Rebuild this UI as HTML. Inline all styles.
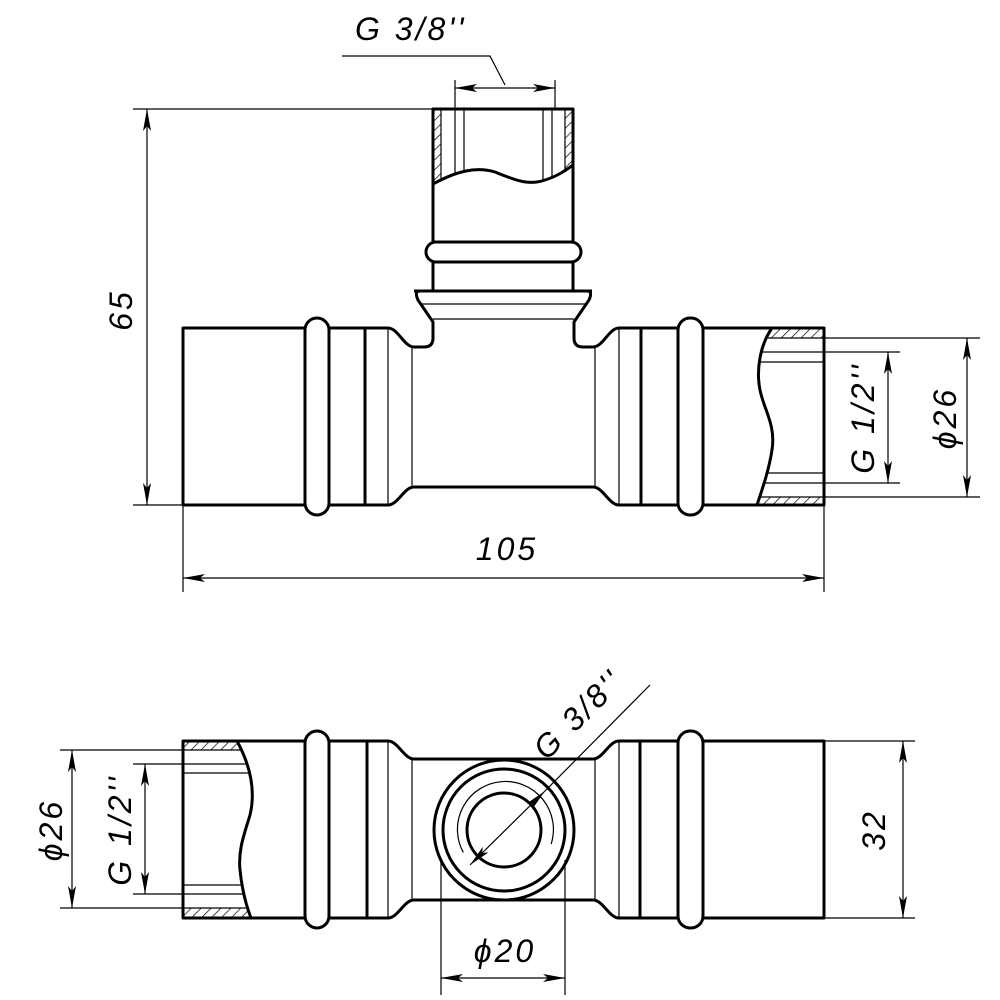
<!DOCTYPE html>
<html><head><meta charset="utf-8"><style>html,body{margin:0;padding:0;background:#fff}svg{display:block}</style></head>
<body>
<svg width="1000" height="1000" viewBox="0 0 1000 1000" xmlns="http://www.w3.org/2000/svg">
<defs>
<pattern id="h" width="7" height="7" patternUnits="userSpaceOnUse" patternTransform="rotate(45)"><line x1="0" y1="0" x2="0" y2="7" stroke="#000" stroke-width="1.4"/></pattern>
<marker id="a" markerWidth="22" markerHeight="8" refX="22" refY="4" orient="auto-start-reverse" markerUnits="userSpaceOnUse"><path d="M0,0 L22,4 L0,8 L5,4 Z" fill="#000"/></marker>
</defs>
<g fill="none" stroke="#000" stroke-linejoin="round">
<path d="M183,505 V328 H388 C398,328 404,347 414,347 H424 Q433,347 433,338 V322 L418,300 Q414,291 420,291 H587 Q593,291 589,300 L574,322 V338 Q574,347 583,347 H593 C603,347 609,328 619,328 H824 V505 H619 C609,505 603,487 593,487 H414 C404,487 398,505 388,505 Z" fill="#fff" stroke-width="3"/>
<line x1="420" y1="304" x2="587" y2="304" stroke-width="1.2"/>
<line x1="433" y1="319" x2="574" y2="319" stroke-width="1.2"/>
<g stroke-width="1.2"><line x1="388" y1="328" x2="388" y2="505"/><line x1="412" y1="347" x2="412" y2="487"/><line x1="595" y1="347" x2="595" y2="487"/><line x1="619" y1="328" x2="619" y2="505"/></g>
<g stroke-width="3"><line x1="365" y1="328" x2="365" y2="505"/><line x1="641" y1="328" x2="641" y2="505"/></g>
<rect x="305" y="318" width="24" height="197" rx="12" fill="#fff" stroke-width="3"/>
<rect x="678" y="318" width="25" height="197" rx="12" fill="#fff" stroke-width="3"/>
<path d="M772,328 H824 V338 H768 Z" fill="url(#h)" stroke="none"/>
<path d="M760,497 H824 V505 H757 Z" fill="url(#h)" stroke="none"/>
<path d="M772,328 C760,345 756,370 760,390 C764,410 776,425 772,450 C769,470 762,490 757,505" stroke-width="3"/>
<g stroke-width="1.2"><line x1="768" y1="338" x2="824" y2="338"/><line x1="760" y1="352" x2="824" y2="352"/><line x1="758" y1="362" x2="824" y2="362"/><line x1="768" y1="473" x2="824" y2="473"/><line x1="764" y1="483" x2="824" y2="483"/><line x1="760" y1="497" x2="824" y2="497"/></g>
<rect x="433" y="109" width="140" height="133" fill="#fff" stroke-width="3"/>
<path d="M433,109 H441 V180 L433,184 Z" fill="url(#h)" stroke="none"/>
<path d="M565,109 H573 V168 L565,172 Z" fill="url(#h)" stroke="none"/>
<g stroke-width="1.2"><line x1="441" y1="109" x2="441" y2="180"/><line x1="455" y1="109" x2="455" y2="174"/><line x1="464" y1="109" x2="464" y2="171"/><line x1="543" y1="109" x2="543" y2="181"/><line x1="552" y1="109" x2="552" y2="178"/><line x1="565" y1="109" x2="565" y2="172"/></g>
<path d="M433,184 C455,172 475,166 495,172 C515,180 528,186 545,180 C558,176 566,170 573,165" stroke-width="3"/>
<rect x="426" y="242" width="155" height="20" rx="10" fill="#fff" stroke-width="3"/>
<line x1="433" y1="262" x2="433" y2="291" stroke-width="3"/><line x1="573" y1="262" x2="573" y2="291" stroke-width="3"/>
<line x1="414" y1="291" x2="592" y2="291" stroke-width="3"/>
<g stroke-width="1.2">
<line x1="455" y1="80" x2="455" y2="109"/><line x1="555" y1="80" x2="555" y2="109"/>
<line x1="455" y1="88" x2="555" y2="88" marker-start="url(#a)" marker-end="url(#a)"/>
<polyline points="342,56 490,56 505,85"/>
<line x1="133" y1="109" x2="433" y2="109"/><line x1="133" y1="505" x2="183" y2="505"/>
<line x1="147" y1="109" x2="147" y2="505" marker-start="url(#a)" marker-end="url(#a)"/>
<line x1="183" y1="505" x2="183" y2="592"/><line x1="824" y1="505" x2="824" y2="592"/>
<line x1="183" y1="578" x2="824" y2="578" marker-start="url(#a)" marker-end="url(#a)"/>
<line x1="824" y1="338" x2="980" y2="338"/><line x1="824" y1="497" x2="980" y2="497"/>
<line x1="824" y1="352" x2="900" y2="352"/><line x1="824" y1="483" x2="900" y2="483"/>
<line x1="888" y1="352" x2="888" y2="483" marker-start="url(#a)" marker-end="url(#a)"/>
<line x1="967" y1="338" x2="967" y2="497" marker-start="url(#a)" marker-end="url(#a)"/>
</g>
<path d="M183,918 V741 H388 C398,741 404,759 414,759 H593 C603,759 609,741 619,741 H824 V918 H619 C609,918 603,900 593,900 H414 C404,900 398,918 388,918 Z" fill="#fff" stroke-width="3"/>
<g stroke-width="1.2"><line x1="388" y1="741" x2="388" y2="918"/><line x1="412" y1="759" x2="412" y2="900"/><line x1="595" y1="759" x2="595" y2="900"/><line x1="619" y1="741" x2="619" y2="918"/></g>
<g stroke-width="3"><line x1="367" y1="741" x2="367" y2="918"/><line x1="640" y1="741" x2="640" y2="918"/></g>
<rect x="305" y="731" width="24" height="197" rx="12" fill="#fff" stroke-width="3"/>
<rect x="678" y="731" width="25" height="197" rx="12" fill="#fff" stroke-width="3"/>
<path d="M183,741 H237 L241,750 H183 Z" fill="url(#h)" stroke="none"/>
<path d="M183,908 H246 L250,918 H183 Z" fill="url(#h)" stroke="none"/>
<path d="M237,741 C250,765 256,790 250,815 C244,835 238,850 240,870 C242,890 246,905 251,918" stroke-width="3"/>
<g stroke-width="1.2"><line x1="183" y1="750" x2="241" y2="750"/><line x1="183" y1="764" x2="246" y2="764"/><line x1="183" y1="773" x2="249" y2="773"/><line x1="183" y1="885" x2="241" y2="885"/><line x1="183" y1="894" x2="243" y2="894"/><line x1="183" y1="908" x2="246" y2="908"/></g>
<circle cx="504" cy="830" r="70" fill="#fff" stroke-width="3"/>
<circle cx="504" cy="830" r="61" stroke-width="3"/>
<path d="M460,845 A48,48 0 1 1 548,852" stroke-width="1.2" transform="rotate(-10 504 830)"/>
<circle cx="504" cy="830" r="37" stroke-width="3"/>
<g stroke-width="1.2">
<line x1="60" y1="750" x2="183" y2="750"/><line x1="60" y1="908" x2="183" y2="908"/>
<line x1="72" y1="750" x2="72" y2="908" marker-start="url(#a)" marker-end="url(#a)"/>
<line x1="133" y1="764" x2="183" y2="764"/><line x1="133" y1="894" x2="183" y2="894"/>
<line x1="145" y1="764" x2="145" y2="894" marker-start="url(#a)" marker-end="url(#a)"/>
<line x1="824" y1="741" x2="915" y2="741"/><line x1="824" y1="918" x2="915" y2="918"/>
<line x1="903" y1="741" x2="903" y2="918" marker-start="url(#a)" marker-end="url(#a)"/>
<line x1="441" y1="860" x2="441" y2="995"/><line x1="565" y1="860" x2="565" y2="995"/>
<line x1="441" y1="978" x2="565" y2="978" marker-start="url(#a)" marker-end="url(#a)"/>
<line x1="470" y1="865" x2="545" y2="791" marker-start="url(#a)" marker-end="url(#a)"/>
<line x1="545" y1="791" x2="650" y2="685"/>
</g>
</g>
<g font-family="Liberation Sans, sans-serif" font-style="italic" font-size="32" letter-spacing="3" fill="#000">
<text x="355" y="40">G 3/8''</text>
<text transform="translate(132,310) rotate(-90)" text-anchor="middle">65</text>
<text x="507" y="560" text-anchor="middle">105</text>
<text transform="translate(874,418) rotate(-90)" text-anchor="middle">G 1/2''</text>
<text transform="translate(956,418) rotate(-90)" text-anchor="middle">ϕ26</text>
<text transform="translate(62,830) rotate(-90)" text-anchor="middle">ϕ26</text>
<text transform="translate(131,830) rotate(-90)" text-anchor="middle">G 1/2''</text>
<text transform="translate(885,830) rotate(-90)" text-anchor="middle">32</text>
<text x="505" y="962" text-anchor="middle">ϕ20</text>
<text transform="translate(586,722) rotate(-45)" text-anchor="middle">G 3/8''</text>
</g>
</svg>
</body></html>
